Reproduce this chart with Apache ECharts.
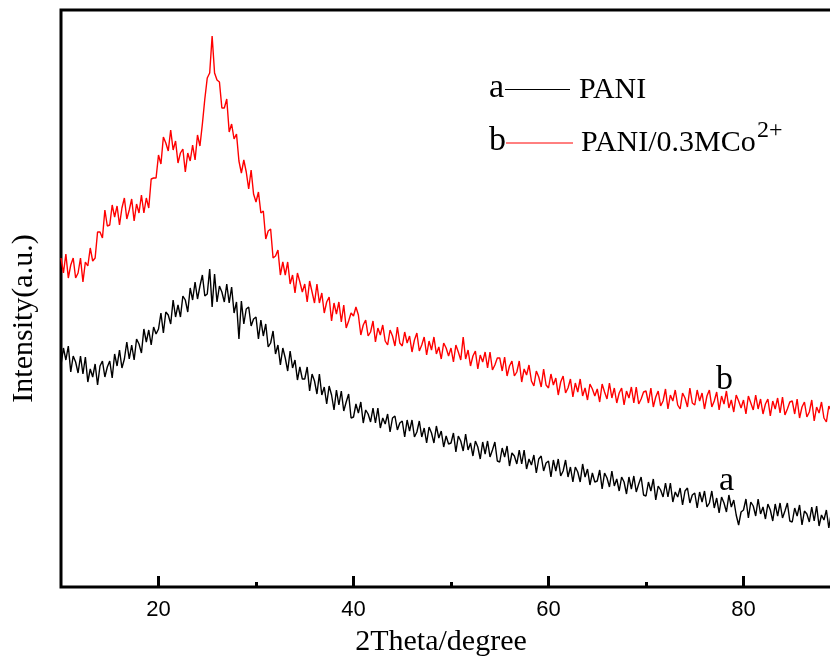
<!DOCTYPE html>
<html lang="en">
<head>
<meta charset="UTF-8">
<title>XRD PANI</title>
<script src="https://cdn.jsdelivr.net/npm/echarts@6/dist/echarts.min.js"></script>
<style>
html, body { margin: 0; padding: 0; background: #fff; }
#main { width: 830px; height: 659px; }
</style>
</head>
<body>
<div id="main"></div>
<script>
// 2theta sampling of the scans
var twoThetaStart = 10;
var twoThetaStep = 0.25;
var majorTicks = [20, 40, 60, 80];
var minorTicks = [30, 50, 70];

// a: PANI (arbitrary intensity units)
var pani = [
  222,239,227,241, 215,231,225,214, 231,213,230,205, 218,210,223,202, 221,226,210,220,
  226,209,233,221, 237,219,228,245, 228,242,227,248, 243,234,258,245, 257,242,260,253,
  258,274,254,275, 272,263,287,270, 282,270,291,287, 275,299,287,305, 288,301,312,291,
  293,318,280,313, 285,301,295,285, 303,284,300,274, 285,248,286,263, 278,280,261,268,
  270,248,267,251, 263,240,244,256, 233,242,222,239, 229,216,236,219, 227,207,220,208,
  208,220,196,213, 206,193,213,192, 200,183,201,192, 177,197,182,196, 176,185,193,169,
  170,183,174,185, 164,177,173,165, 179,164,179,159, 169,163,173,155, 169,171,157,164,
  166,150,167,156, 167,150,155,166, 150,159,144,160, 154,144,161,149, 156,140,151,143,
  144,154,135,151, 146,136,153,137, 144,131,146,140, 128,145,133,146, 130,137,145,126,
  125,139,130,141, 121,134,131,123, 137,123,137,118, 128,122,132,114, 128,131,116,124,
  126,110,127,116, 128,111,116,127, 110,120,105,120, 115,105,123,110, 118,102,114,105,
  106,117,98,114, 109,100,116,101, 108,96,110,105, 93,110,98,111, 95,103,110,92,
  91,105,96,108, 87,101,97,90, 104,90,104,85, 95,90,99,82, 96,99,84,92,
  94,79,95,85, 96,80,84,96, 79,89,74,90, 84,75,92,80, 87,72,62,75,
  77,88,69,85, 81,71,88,73, 80,68,83,77, 66,83,71,84, 69,76,84,66,
  65,79,71,82, 62,76,73,65, 80,66,81,61, 72,67,77,59, 74,77,63,70,
  68
];

// b: PANI/0.3MCo2+
var paniCo = [
  329,314,333,309, 322,329,309,314, 329,305,325,321, 339,326,329,355, 355,349,377,361,
  362,382,370,381, 362,379,389,368, 377,388,366,383, 374,392,374,389, 379,408,409,409,
  432,423,450,444, 436,457,437,446, 424,434,438,415, 434,426,442,427, 452,441,463,488,
  509,514,551,514, 507,505,479,479, 488,455,463,448, 453,426,414,427, 415,398,417,393,
  385,395,374,376, 348,356,358,329, 331,337,312,325, 312,325,303,312, 294,314,305,295,
  303,285,306,295, 284,303,284,294, 274,285,290,266, 284,273,285,265, 282,259,266,274,
  271,280,272,252, 262,267,251,255, 266,245,259,252, 262,246,242,257, 251,241,260,244,
  241,255,244,251, 235,247,254,236, 242,250,232,246, 237,250,233,240, 228,244,239,231,
  239,225,242,235, 227,250,228,237, 221,231,236,218, 232,225,235,219, 235,217,222,229,
  229,216,230,211, 221,226,211,215, 226,205,218,212, 222,206,201,216, 210,200,218,202,
  199,213,202,209, 192,205,211,194, 199,208,190,204, 195,208,191,199, 187,203,198,191,
  198,185,203,195, 188,204,189,199, 184,194,199,182, 196,189,200,184, 200,183,188,195,
  196,184,199,180, 190,196,181,186, 198,178,192,186, 197,182,178,194, 189,180,199,184,
  182,197,186,194, 178,191,197,180, 186,195,177,191, 183,196,179,187, 175,192,186,179,
  187,173,191,184, 177,192,178,188, 173,183,188,171, 186,178,189,174, 190,172,178,185,
  186,173,188,169, 180,185,170,175, 187,166,180,174, 185,169,165,181, 176,166,185,170,
  172
];

function toPairs(arr) {
  return arr.map(function (v, i) {
    return [twoThetaStart + i * twoThetaStep, v];
  });
}

var chart = echarts.init(document.getElementById('main'), null, { renderer: 'canvas' });
var serif = 'Liberation Serif, Times New Roman, serif';

var option = {
  animation: false,
  backgroundColor: '#fff',
  grid: {
    left: 61, right: -11, top: 10, bottom: 72,
    show: true, borderColor: '#000', borderWidth: 3,
    backgroundColor: 'transparent',
    outerBoundsMode: 'none'
  },
  xAxis: [{
    type: 'value', min: 10, max: 90, position: 'bottom',
    name: '2Theta/degree', nameLocation: 'middle', nameGap: 40,
    nameTextStyle: { fontFamily: serif, fontSize: 30, color: '#000', padding: [0, 20, 0, 0] },
    axisLine: { show: false },
    axisTick: { inside: true, length: 11, customValues: majorTicks, lineStyle: { width: 3, color: '#000' } },
    axisLabel: { customValues: majorTicks, fontFamily: 'Liberation Sans, Arial, sans-serif', fontSize: 22, color: '#000', margin: 12 },
    splitLine: { show: false }
  }, {
    type: 'value', min: 10, max: 90, position: 'bottom',
    axisLine: { show: false },
    axisTick: { inside: true, length: 5, customValues: minorTicks, lineStyle: { width: 3, color: '#000' } },
    axisLabel: { show: false },
    splitLine: { show: false }
  }],
  yAxis: {
    type: 'value', min: 0, max: 577,
    name: 'Intensity(a.u.)', nameLocation: 'middle', nameGap: 22,
    nameTextStyle: { fontFamily: serif, fontSize: 30, color: '#000', padding: [0, 40, 0, 0] },
    axisLine: { show: false },
    axisTick: { show: false },
    axisLabel: { show: false },
    splitLine: { show: false }
  },
  series: [{
    name: 'PANI', type: 'line', xAxisIndex: 0,
    data: toPairs(pani),
    showSymbol: false, symbol: 'none', silent: true,
    lineStyle: { color: '#000', width: 1.4 }
  }, {
    name: 'PANI/0.3MCo2+', type: 'line', xAxisIndex: 0,
    data: toPairs(paniCo),
    showSymbol: false, symbol: 'none', silent: true,
    lineStyle: { color: '#ff0000', width: 1.4 }
  }],
  graphic: [
    { type: 'text', style: { x: 489, y: 88, text: 'a', font: '34px ' + serif, fill: '#000', textVerticalAlign: 'middle' } },
    { type: 'line', shape: { x1: 505, y1: 89.5, x2: 570, y2: 89.5 }, style: { stroke: '#000', lineWidth: 1.2 } },
    { type: 'text', style: { x: 579, y: 90, text: 'PANI', font: '30px ' + serif, fill: '#000', textVerticalAlign: 'middle' } },
    { type: 'text', style: { x: 489, y: 141, text: 'b', font: '34px ' + serif, fill: '#000', textVerticalAlign: 'middle' } },
    { type: 'line', shape: { x1: 506, y1: 143, x2: 573, y2: 143 }, style: { stroke: '#ff0000', lineWidth: 1 } },
    { type: 'text', style: { x: 581, y: 143, text: 'PANI/0.3MCo', font: '30px ' + serif, fill: '#000', textVerticalAlign: 'middle' } },
    { type: 'text', style: { x: 757, y: 131, text: '2+', font: '24px ' + serif, fill: '#000', textVerticalAlign: 'middle' } },
    { type: 'text', style: { x: 716, y: 380, text: 'b', font: '34px ' + serif, fill: '#000', textVerticalAlign: 'middle' } },
    { type: 'text', style: { x: 719, y: 481, text: 'a', font: '34px ' + serif, fill: '#000', textVerticalAlign: 'middle' } }
  ]
};
chart.setOption(option);
</script>
</body>
</html>
